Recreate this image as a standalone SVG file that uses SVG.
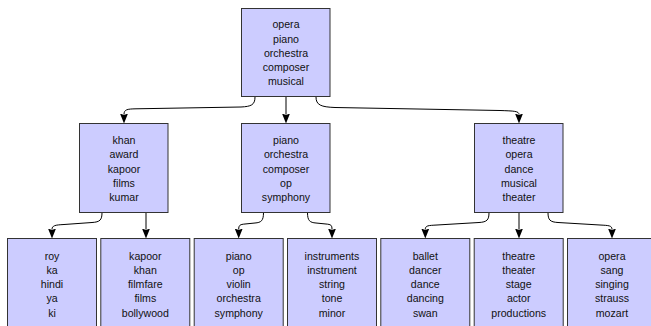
<svg xmlns="http://www.w3.org/2000/svg" width="651" height="326" viewBox="0 0 651 326">
  <style>
    .box { fill: #ccccff; stroke: #333333; stroke-width: 1; }
    .lbl { font-family: "Liberation Sans", Arial, sans-serif; font-size: 10.6px; fill: #111111; text-anchor: middle; }
    .edge { fill: none; stroke: #000000; stroke-width: 1; marker-end: url(#head); }
  </style>
  <defs>
    <marker id="head" viewBox="0 -4 10 8" refX="1" refY="0" markerWidth="10" markerHeight="8" markerUnits="userSpaceOnUse" orient="auto">
      <path d="M0,-4 L10,0 L0,4 L1.5,0 Z" fill="#000000"/>
    </marker>
  </defs>

  <rect width="651" height="326" fill="#ffffff"/>

  <!-- connectors -->
  <g id="edges">
    <path class="edge" d="M255,97 C255,105 251,106.5 241,107 L136,108.8 C127,109 124,109.5 124,114.5"/>
    <path class="edge" d="M286,97 V114.5"/>
    <path class="edge" d="M316,97 C316,105 321,107 335,107.5 L500,110.5 C514,111 519,111 519,114.5"/>

    <path class="edge" d="M102,212.5 C102,220 100,222 92,222.5 L64,224.5 C55,225 52,225.5 52,229.5"/>
    <path class="edge" d="M146,212.5 V229.5"/>

    <path class="edge" d="M263.5,212.5 C263.5,221 261,222.5 255,223 L245,224 C240,224.5 238.7,225 238.7,229.5"/>
    <path class="edge" d="M307.5,212.5 C307.5,221 310,222.5 316,223 L326,224 C331,224.5 332,225 332,229.5"/>

    <path class="edge" d="M489,212.5 C489,220 487,222 479,222.5 L437,225 C428,225.5 425.3,225.5 425.3,229.5"/>
    <path class="edge" d="M519,212.5 V229.5"/>
    <path class="edge" d="M548,212.5 C548,220 550,222 558,222.5 L600,225 C609,225.5 612,225.5 612,229.5"/>
  </g>

  <!-- root -->
  <g id="n0">
    <rect class="box" x="241.5" y="8.5" width="88.5" height="88"/>
    <text class="lbl" x="286" y="28.4">opera<tspan x="286" dy="14.2">piano</tspan><tspan x="286" dy="14.2">orchestra</tspan><tspan x="286" dy="14.2">composer</tspan><tspan x="286" dy="14.2">musical</tspan></text>
  </g>

  <!-- second level -->
  <g id="n1">
    <rect class="box" x="79.5" y="123.5" width="88.5" height="89"/>
    <text class="lbl" x="124" y="144.2">khan<tspan x="124" dy="14.2">award</tspan><tspan x="124" dy="14.2">kapoor</tspan><tspan x="124" dy="14.2">films</tspan><tspan x="124" dy="14.2">kumar</tspan></text>
  </g>
  <g id="n2">
    <rect class="box" x="241.5" y="123.5" width="88.5" height="89"/>
    <text class="lbl" x="286" y="144.2">piano<tspan x="286" dy="14.2">orchestra</tspan><tspan x="286" dy="14.2">composer</tspan><tspan x="286" dy="14.2">op</tspan><tspan x="286" dy="14.2">symphony</tspan></text>
  </g>
  <g id="n3">
    <rect class="box" x="474.5" y="123.5" width="88.5" height="89"/>
    <text class="lbl" x="519" y="144.2">theatre<tspan x="519" dy="14.2">opera</tspan><tspan x="519" dy="14.2">dance</tspan><tspan x="519" dy="14.2">musical</tspan><tspan x="519" dy="14.2">theater</tspan></text>
  </g>

  <!-- third level -->
  <g id="n4">
    <rect class="box" x="7.5" y="238.5" width="89" height="89"/>
    <text class="lbl" x="52" y="259.7">roy<tspan x="52" dy="14.2">ka</tspan><tspan x="52" dy="14.2">hindi</tspan><tspan x="52" dy="14.2">ya</tspan><tspan x="52" dy="14.2">ki</tspan></text>
  </g>
  <g id="n5">
    <rect class="box" x="100.8" y="238.5" width="89" height="89"/>
    <text class="lbl" x="145.3" y="259.7">kapoor<tspan x="145.3" dy="14.2">khan</tspan><tspan x="145.3" dy="14.2">filmfare</tspan><tspan x="145.3" dy="14.2">films</tspan><tspan x="145.3" dy="14.2">bollywood</tspan></text>
  </g>
  <g id="n6">
    <rect class="box" x="194.2" y="238.5" width="89" height="89"/>
    <text class="lbl" x="238.7" y="259.7">piano<tspan x="238.7" dy="14.2">op</tspan><tspan x="238.7" dy="14.2">violin</tspan><tspan x="238.7" dy="14.2">orchestra</tspan><tspan x="238.7" dy="14.2">symphony</tspan></text>
  </g>
  <g id="n7">
    <rect class="box" x="287.5" y="238.5" width="89" height="89"/>
    <text class="lbl" x="332" y="259.7">instruments<tspan x="332" dy="14.2">instrument</tspan><tspan x="332" dy="14.2">string</tspan><tspan x="332" dy="14.2">tone</tspan><tspan x="332" dy="14.2">minor</tspan></text>
  </g>
  <g id="n8">
    <rect class="box" x="380.8" y="238.5" width="89" height="89"/>
    <text class="lbl" x="425.3" y="259.7">ballet<tspan x="425.3" dy="14.2">dancer</tspan><tspan x="425.3" dy="14.2">dance</tspan><tspan x="425.3" dy="14.2">dancing</tspan><tspan x="425.3" dy="14.2">swan</tspan></text>
  </g>
  <g id="n9">
    <rect class="box" x="474.2" y="238.5" width="89" height="89"/>
    <text class="lbl" x="518.7" y="259.7">theatre<tspan x="518.7" dy="14.2">theater</tspan><tspan x="518.7" dy="14.2">stage</tspan><tspan x="518.7" dy="14.2">actor</tspan><tspan x="518.7" dy="14.2">productions</tspan></text>
  </g>
  <g id="n10">
    <rect class="box" x="567.5" y="238.5" width="89" height="89"/>
    <text class="lbl" x="612" y="259.7">opera<tspan x="612" dy="14.2">sang</tspan><tspan x="612" dy="14.2">singing</tspan><tspan x="612" dy="14.2">strauss</tspan><tspan x="612" dy="14.2">mozart</tspan></text>
  </g>
</svg>
